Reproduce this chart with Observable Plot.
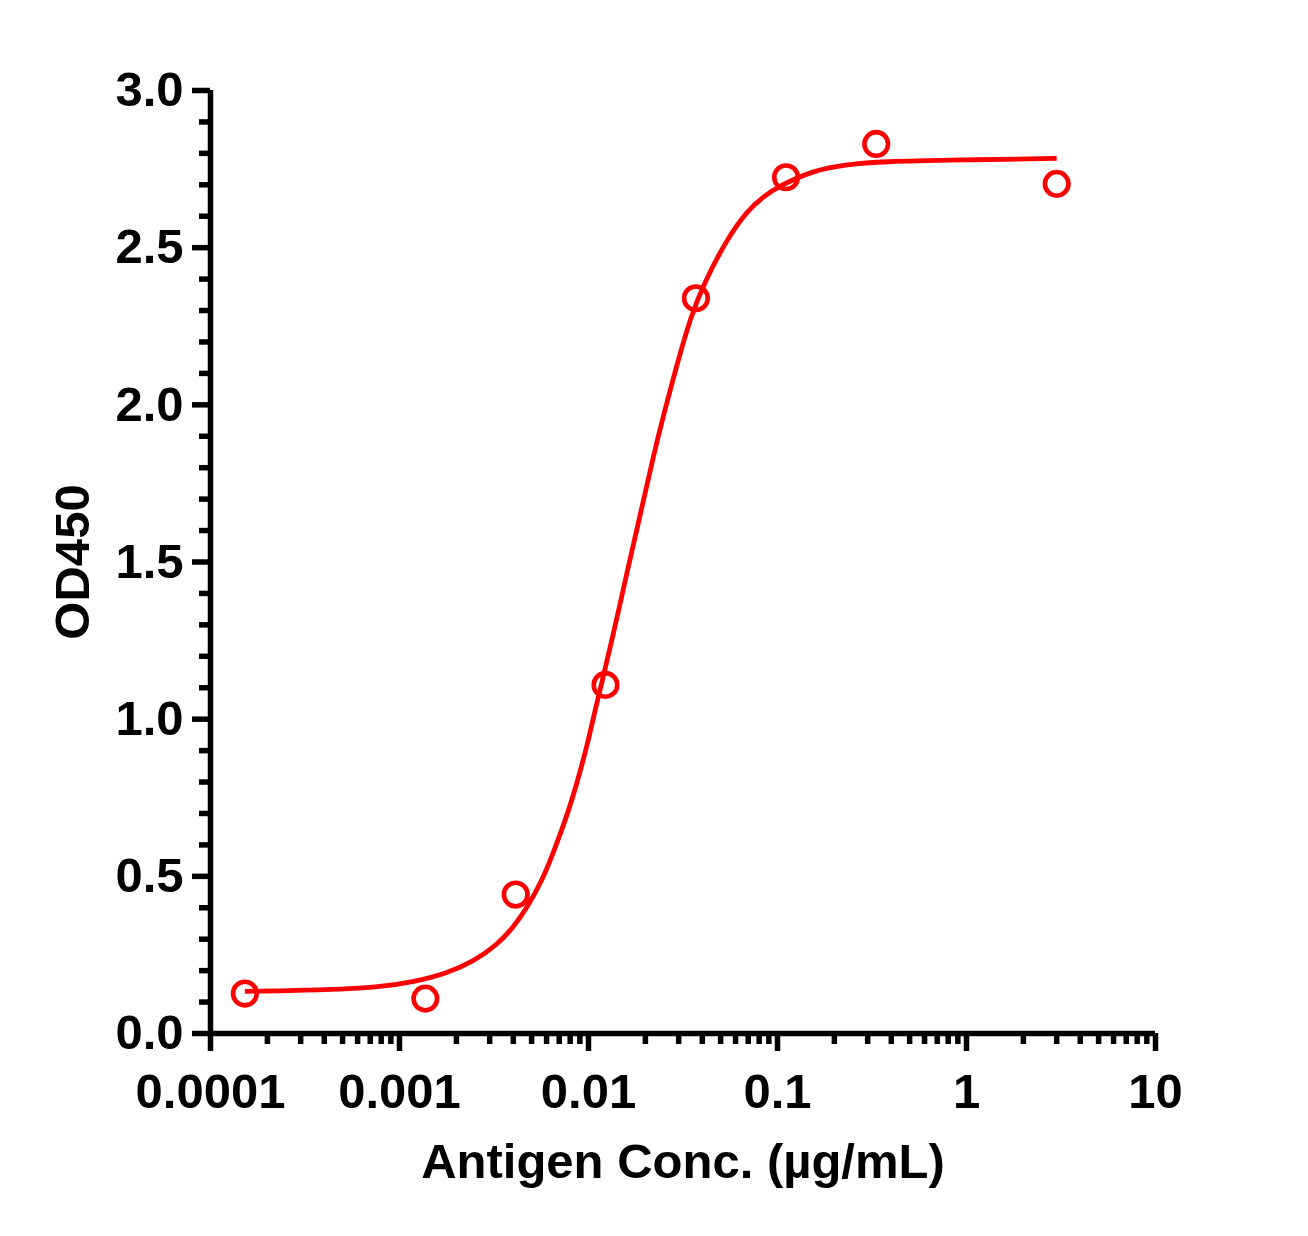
<!DOCTYPE html>
<html>
<head>
<meta charset="utf-8">
<script src="https://cdn.jsdelivr.net/npm/d3@7"></script>
<script src="https://cdn.jsdelivr.net/npm/@observablehq/plot@0.6"></script>
<style>
  html, body { margin: 0; padding: 0; background: #fff; overflow: hidden; }
  #chart svg { display: block; }
</style>
</head>
<body>
<div id="chart"></div>
<script>
// Measured points (antigen concentration, µg/mL → OD450)
const conc = [0.000152, 0.00137, 0.00412, 0.0123, 0.037, 0.111, 0.333, 3];
const od   = [0.127, 0.111, 0.442, 1.109, 2.339, 2.724, 2.830, 2.703];

// Fitted curve
const curveX = [0.000152, 0.000431, 0.000793, 0.00119, 0.00179, 0.00246, 0.00330, 0.00401, 0.00475,
                0.00569, 0.00655, 0.00771, 0.00871, 0.00984, 0.01089, 0.01157, 0.01361, 0.01602,
                0.01884, 0.02208, 0.02503, 0.02946, 0.03465, 0.04075, 0.05418, 0.06938, 0.0844, 0.1037,
                0.155, 0.2346, 0.3508, 0.9296, 3];
const curveY = [0.134, 0.139, 0.148, 0.164, 0.192, 0.229, 0.283, 0.338, 0.402,
                0.487, 0.579, 0.694, 0.799, 0.916, 1.034, 1.098, 1.276, 1.470,
                1.654, 1.839, 1.971, 2.131, 2.278, 2.386, 2.529, 2.618, 2.663, 2.698,
                2.746, 2.765, 2.774, 2.779, 2.784];

// Axis ticks
const xMajor = [0.0001, 0.001, 0.01, 0.1, 1, 10];
const xTickLabels = ["0.0001", "0.001", "0.01", "0.1", "1", "10"];
const xMinorFactors = [2, 3, 4, 5, 6, 7, 8, 9];
const yMajor = [0, 0.5, 1.0, 1.5, 2.0, 2.5, 3.0];
const yTickLabels = ["0.0", "0.5", "1.0", "1.5", "2.0", "2.5", "3.0"];
const yMinor = [0.1, 0.2, 0.3, 0.4, 0.6, 0.7, 0.8, 0.9, 1.1, 1.2, 1.3, 1.4, 1.6, 1.7, 1.8, 1.9,
                2.1, 2.2, 2.3, 2.4, 2.6, 2.7, 2.8, 2.9];

const xTitle = "Antigen Conc. (µg/mL)";
const yTitle = "OD450";

const points = conc.map((c, i) => ({c, od: od[i]}));
const curve = curveX.map((c, i) => ({c, od: curveY[i]}));
const xMinor = xMajor.slice(0, -1).flatMap(d => xMinorFactors.map(f => +(d * f).toPrecision(3)));

const RED = "#ff0000";
const FONT = "'Liberation Sans', Arial, Helvetica, sans-serif";
const AX = 5.5;
const FS = 49;

const chart = Plot.plot({
  width: 1308,
  height: 1236,
  marginLeft: 210,
  marginRight: 153,
  marginTop: 90,
  marginBottom: 203,
  style: {fontFamily: FONT, background: "#fff", color: "#000"},
  x: {type: "log", domain: [0.0001, 10]},
  y: {type: "linear", domain: [0, 3]},
  marks: [
    // minor ticks
    Plot.axisX(xMinor, {anchor: "bottom", tickSize: 11, strokeWidth: AX, tickFormat: () => "", label: null}),
    Plot.axisY(yMinor, {anchor: "left", tickSize: 11, strokeWidth: AX, tickFormat: () => "", label: null}),
    // major ticks with labels
    Plot.axisX(xMajor, {
      anchor: "bottom", tickSize: 18, tickPadding: 22, strokeWidth: AX,
      fontSize: FS, fontWeight: "bold", label: null,
      tickFormat: d => xTickLabels[xMajor.indexOf(d)]
    }),
    Plot.axisY(yMajor, {
      anchor: "left", tickSize: 18, tickPadding: 9, strokeWidth: AX,
      fontSize: FS, fontWeight: "bold", label: null,
      tickFormat: d => yTickLabels[yMajor.indexOf(d)]
    }),
    // axis lines
    Plot.ruleY([0], {strokeWidth: AX}),
    Plot.ruleX([0.0001], {strokeWidth: AX}),
    // titles
    Plot.text([xTitle], {frameAnchor: "bottom", dy: 129, fontSize: FS, fontWeight: "bold", textAnchor: "middle", lineAnchor: "middle"}),
    Plot.text([yTitle], {frameAnchor: "left", dx: -137, rotate: -90, fontSize: FS, fontWeight: "bold", textAnchor: "middle", lineAnchor: "middle"}),
    // fitted curve
    Plot.line(curve, {x: "c", y: "od", stroke: RED, strokeWidth: 4.8, curve: "basis", strokeLinecap: "butt"}),
    // data points
    Plot.dot(points, {x: "c", y: "od", r: 11.8, stroke: RED, strokeWidth: 4.6, fill: "none"})
  ]
});

document.getElementById("chart").appendChild(chart);
</script>
</body>
</html>
